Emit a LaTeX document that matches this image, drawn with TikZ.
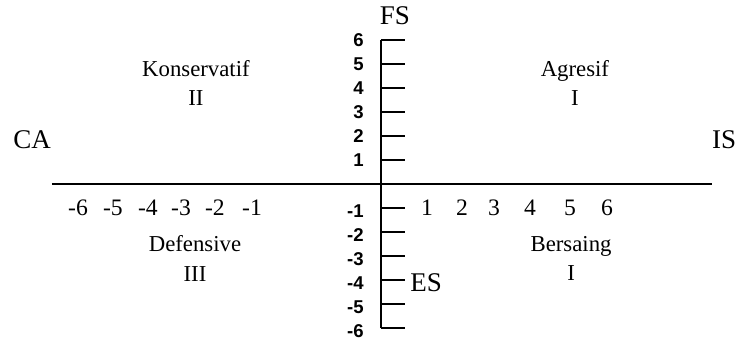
\documentclass[tikz,border=0pt]{standalone}
\usepackage{fontspec}
\setmainfont{Liberation Serif}
\setsansfont{Liberation Sans}

\begin{document}
\begin{tikzpicture}[
    axisline/.style={line width=2.2pt},
    tickline/.style={line width=2pt},
    quad/.style={font=\fontsize{27}{35}\selectfont, align=center},
    axname/.style={font=\fontsize{32}{36}\selectfont},
    hnum/.style={font=\fontsize{28}{32}\selectfont},
    vnum/.style={font=\sffamily\bfseries\fontsize{22}{26}\selectfont, anchor=east}]
                \useasboundingbox (-15.875,-6.542) rectangle (15.125,7.667);
                \coordinate (W) at (-13.71,0);
                \coordinate (E) at (13.79,0);
                \coordinate (N) at (0,6);
                \coordinate (S) at (0,-6);
                \draw[axisline] (W) -- (E);
                \draw[axisline] (N) -- (S);
                \foreach \k in {1,...,6}{
                    \draw[tickline] (0,\k) -- (1,\k);
                    \draw[tickline] (0,-\k) -- (1,-\k);
                    \node[vnum] (vp\k) at (-0.6,\k) {\k};
                    \node[vnum] (vm\k) at (-0.6,-\k-0.12) {-\k};
                }
                \foreach \k/\x in {1/1.92, 2/3.375, 3/4.71, 4/6.21, 5/7.875, 6/9.42}
                    \node[hnum] (hp\k) at (\x,-1) {\k};
                \foreach \k/\x in {6/-12.625, 5/-11.17, 4/-9.71, 3/-8.33, 2/-6.92, 1/-5.375}
                    \node[hnum] (hm\k) at (\x,-1) {-\k};
                \node[axname] (ca) at (-14.54,1.83) {CA};
                \node[axname] (is) at (14.3,1.83) {IS};
                \node[axname] (fs) at (0.58,7) {FS};
                \node[axname, anchor=west] (es) at (1.1,-4.1) {ES};
                \node[quad] (konservatif) at (-7.71,4.21) {Konservatif\\II};
                \node[quad] (agresif) at (8.08,4.21) {Agresif\\I};
                \node[quad] (defensive) at (-7.75,-3.10) {Defensive\\III};
                \node[quad] (bersaing) at (7.92,-3.10) {Bersaing\\I};
            \end{tikzpicture}
\end{document}
